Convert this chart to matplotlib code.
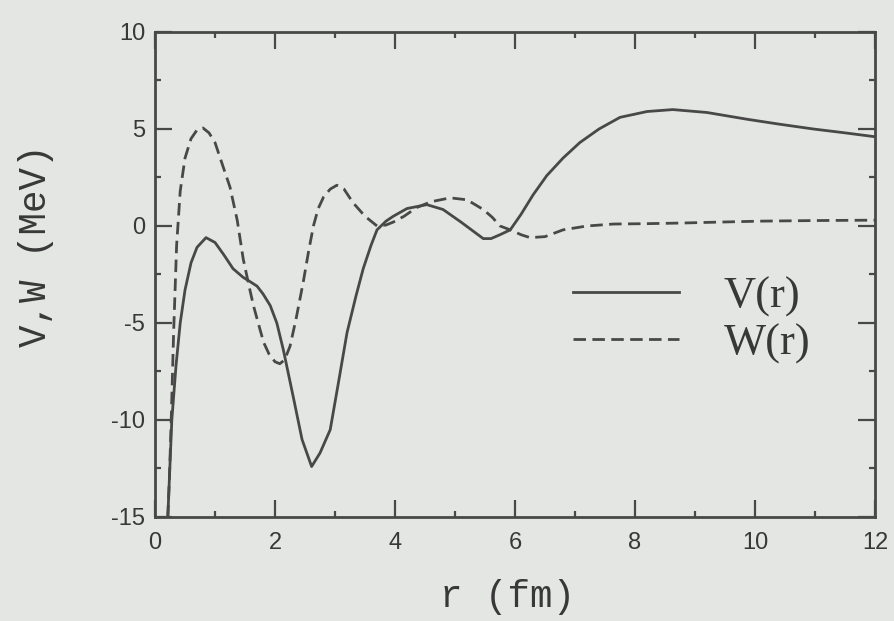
import matplotlib.pyplot as plt
from matplotlib.ticker import MultipleLocator

plt.rcParams['axes.unicode_minus'] = False

# real part V(r) of the potential, read at radius r (fm)
r_v = [0.20, 0.22, 0.28, 0.35, 0.42, 0.50, 0.60, 0.70, 0.85, 1.00, 1.15, 1.30,
       1.47, 1.60, 1.70, 1.80, 1.92, 2.03, 2.14, 2.31, 2.45, 2.61, 2.75, 2.92,
       3.05, 3.20, 3.35, 3.47, 3.60, 3.70, 3.85, 3.97, 4.20, 4.53, 4.80, 5.10,
       5.47, 5.60, 5.75, 5.92, 6.10, 6.30, 6.53, 6.80, 7.08, 7.40, 7.75, 8.20,
       8.63, 9.20, 9.87, 10.40, 10.97, 11.50, 12.00]
v = [-16.0, -14.5, -10.0, -7.2, -5.0, -3.3, -1.9, -1.1, -0.6, -0.85, -1.5, -2.2,
     -2.65, -2.9, -3.1, -3.5, -4.1, -5.0, -6.4, -8.9, -11.0, -12.4, -11.7, -10.5,
     -8.2, -5.5, -3.6, -2.2, -1.0, -0.2, 0.25, 0.5, 0.9, 1.1, 0.85, 0.2,
     -0.65, -0.65, -0.45, -0.2, 0.6, 1.6, 2.6, 3.5, 4.3, 5.0, 5.6, 5.9,
     6.0, 5.85, 5.5, 5.25, 5.0, 4.8, 4.6]

# imaginary part W(r)
r_w = [0.20, 0.24, 0.27, 0.31, 0.36, 0.42, 0.50, 0.60, 0.70, 0.80, 0.90, 1.00,
       1.13, 1.25, 1.37, 1.47, 1.56, 1.64, 1.72, 1.81, 1.90, 2.00, 2.08, 2.16,
       2.25, 2.35, 2.47, 2.56, 2.64, 2.72, 2.81, 2.92, 3.03, 3.15, 3.30, 3.50,
       3.70, 3.85, 3.97, 4.15, 4.36, 4.60, 4.92, 5.20, 5.47, 5.62, 5.75, 5.92,
       6.10, 6.25, 6.50, 6.80, 7.20, 7.64, 8.20, 8.75, 9.40, 10.10, 11.00, 12.00]
w = [-16.0, -13.0, -10.0, -5.5, -1.0, 1.8, 3.5, 4.5, 4.95, 5.05, 4.8, 4.3,
     3.1, 2.0, 0.3, -1.7, -3.0, -4.1, -5.0, -6.0, -6.6, -7.0, -7.1, -6.9,
     -6.2, -4.8, -2.9, -1.3, 0.0, 0.9, 1.5, 1.9, 2.1, 1.9, 1.2, 0.5,
     0.0, 0.05, 0.2, 0.5, 0.95, 1.25, 1.45, 1.35, 0.85, 0.45, 0.0, -0.2,
     -0.45, -0.6, -0.55, -0.2, 0.0, 0.1, 0.12, 0.15, 0.2, 0.25, 0.28, 0.3]

bg = '#e4e6e4'
ink = '#484848'
txt = '#383838'

fig = plt.figure(figsize=(8.95, 6.21), dpi=100, facecolor=bg)
ax = fig.add_axes([0.1732, 0.1675, 0.8045, 0.781], facecolor=bg)

ax.plot(r_v, v, color=ink, lw=2.0, label='V(r)')
ax.plot(r_w, w, color=ink, lw=2.0, linestyle=(0, (4.5, 2.3)), label='W(r)')

ax.set_xlim(0, 12)
ax.set_ylim(-15, 10)
ax.xaxis.set_major_locator(MultipleLocator(2))
ax.xaxis.set_minor_locator(MultipleLocator(1))
ax.yaxis.set_major_locator(MultipleLocator(5))
ax.yaxis.set_minor_locator(MultipleLocator(2.5))

for s in ax.spines.values():
    s.set_color(ink)
    s.set_linewidth(2.0)

ax.tick_params(which='both', direction='in', top=True, right=True, color=ink, width=1.6)
ax.tick_params(which='major', length=12)
ax.tick_params(which='minor', length=4)
ax.tick_params(axis='x', which='major', pad=11)
ax.tick_params(axis='y', which='major', pad=7)
for lab in ax.get_xticklabels() + ax.get_yticklabels():
    lab.set_family('Liberation Sans')
    lab.set_fontsize(17)
    lab.set_color(txt)

ax.set_xlabel('r (fm)', family='Liberation Mono', fontsize=27, color=txt)
ax.set_ylabel('V,W (MeV)', family='Liberation Mono', fontsize=27, color=txt)
ax.xaxis.set_label_coords(0.49, -0.128)
ax.yaxis.set_label_coords(-0.14, 0.56)

leg = ax.legend(loc='center left', bbox_to_anchor=(0.58, 0.405), frameon=False,
                prop={'family': 'Liberation Serif', 'size': 32},
                handlelength=2.4, handletextpad=1.0, labelspacing=0.14,
                borderpad=0, borderaxespad=0)
for t in leg.get_texts():
    t.set_color(txt)

fig.savefig('out.png', dpi=100, facecolor=bg)
